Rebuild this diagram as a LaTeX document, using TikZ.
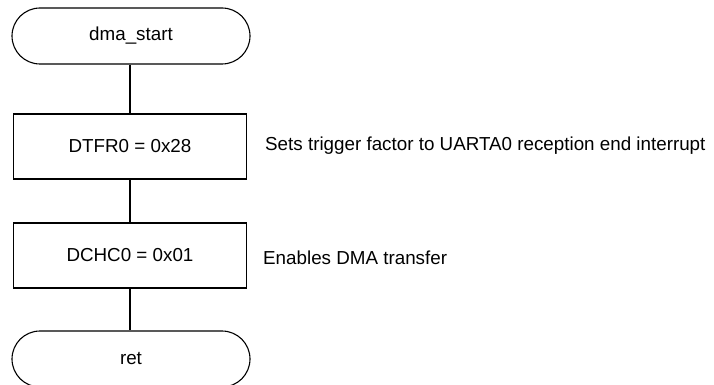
\documentclass[tikz,border=0pt]{standalone}
\usepackage{fontspec}
\setmainfont{Liberation Sans}
\begin{document}
\begin{tikzpicture}[x=1pt,y=-1pt,
  every node/.style={font=\fontsize{18.8}{22}\selectfont},
  term/.style={draw, line width=1.1pt, rounded corners=28pt, minimum width=238pt, minimum height=56pt, inner sep=0pt},
  proc/.style={draw, line width=1.1pt, minimum width=233pt, minimum height=65pt, inner sep=0pt},
  note/.style={anchor=west, inner sep=0pt},
  link/.style={line width=1.1pt}]
\useasboundingbox (0,0) rectangle (714,385);
\node[term] (start) at (131,36) {dma\_start};
\node[proc] (dtfr) at (130,146.5) {DTFR0 = 0x28};
\node[proc] (dchc) at (130,255.5) {DCHC0 = 0x01};
\node[term] (ret) at (131,359) {ret};
\node[note] (c1) at (265,146) {Sets trigger factor to UARTA0 reception end interrupt};
\node[note] (c2) at (263,258) {Enables DMA transfer};
\draw[link] (start.south -| dtfr.north) -- (dtfr.north);
\draw[link] (dtfr.south) -- (dchc.north);
\draw[link] (dchc.south) -- (ret.north -| dchc.south);
\end{tikzpicture}
\end{document}
